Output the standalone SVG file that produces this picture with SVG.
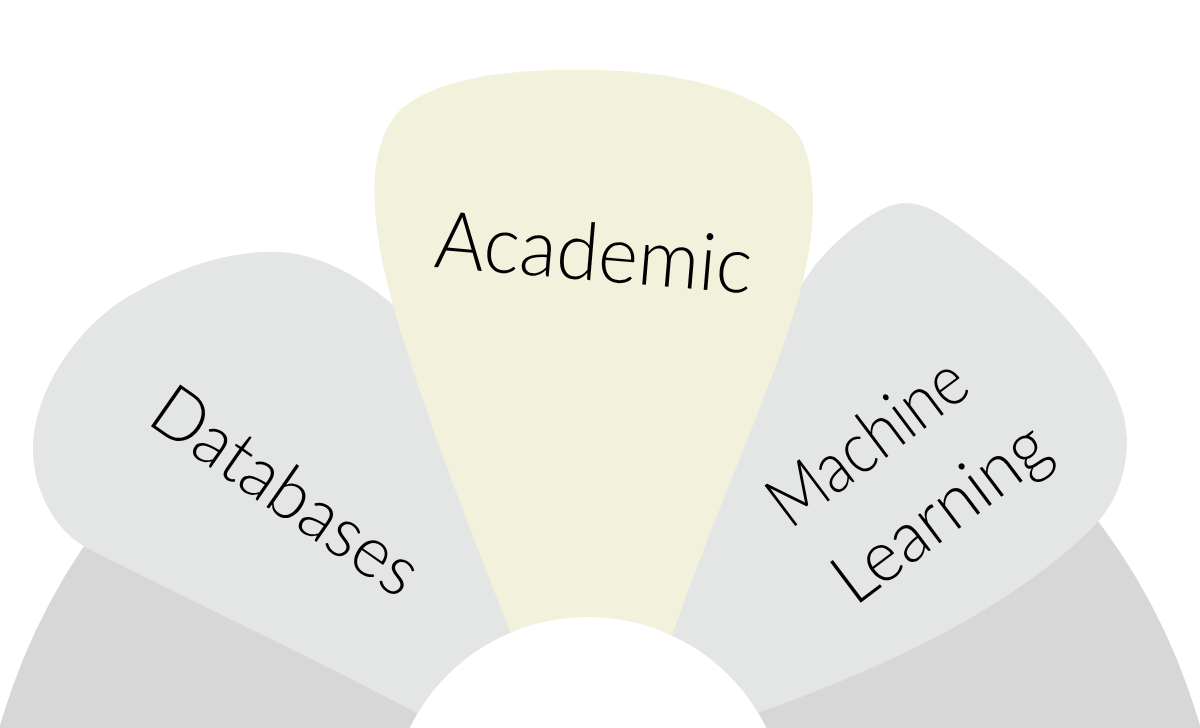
<svg xmlns="http://www.w3.org/2000/svg" width="1200" height="728" viewBox="0 0 1200 728">
  <style>
    .ring { fill: #D8D7D8; }
    .petal { fill: #E4E6E5; }
    .petal-hl { fill: #F1F1DC; }
    .hub { fill: #FFFFFF; }
    .label { font-family: "Lato", "Liberation Sans", Arial, sans-serif; font-weight: 300; fill: #000000; }
  </style>
  <rect x="0" y="0" width="1200" height="728" fill="#FFFFFF"/>
  <g id="ring">
    <circle class="ring" cx="600" cy="897" r="624"/>
  </g>
  <g id="databases">
    <path class="petal" d="M 415,712 C 330,667 190,600 85,547 C 55,530 33,490 33,450 C 33,390 80,320 140,290 C 190,262 240,250 280,252 C 320,254 362,278 392,304 L 440,380 L 580,720 L 470,745 Z"/>
    <text class="label" x="145" y="422" font-size="72" textLength="310" lengthAdjust="spacingAndGlyphs" transform="rotate(35 145 422)">Databases</text>
  </g>
  <g id="machine-learning">
    <path class="petal" d="M 760,712 C 850,680 1000,620 1093,527 C 1115,505 1127,475 1127,440 C 1127,380 1060,300 990,250 C 950,220 930,203 905,203 C 880,203 840,235 815,265 L 770,330 L 640,720 Z"/>
    <text class="label" x="790" y="530" font-size="72" textLength="230" lengthAdjust="spacingAndGlyphs" transform="rotate(-37 790 530)">Machine</text>
    <text class="label" x="855" y="607" font-size="72" textLength="250" lengthAdjust="spacingAndGlyphs" transform="rotate(-37 855 607)">Learning</text>
  </g>
  <g id="academic">
    <path class="petal-hl" d="M 545,720 C 490,580 400,360 380,250 C 370,190 372,140 400,110 C 440,75 520,68 597,70 C 680,72 750,90 790,125 C 818,150 818,220 803,280 C 780,380 690,560 645,720 Z"/>
    <text class="label" x="433" y="267" font-size="80" textLength="318" lengthAdjust="spacingAndGlyphs" transform="rotate(4.8 433 267)">Academic</text>
  </g>
  <g id="hub">
    <circle class="hub" cx="588" cy="816" r="199"/>
  </g>
  <g id="connectors"></g>
</svg>
